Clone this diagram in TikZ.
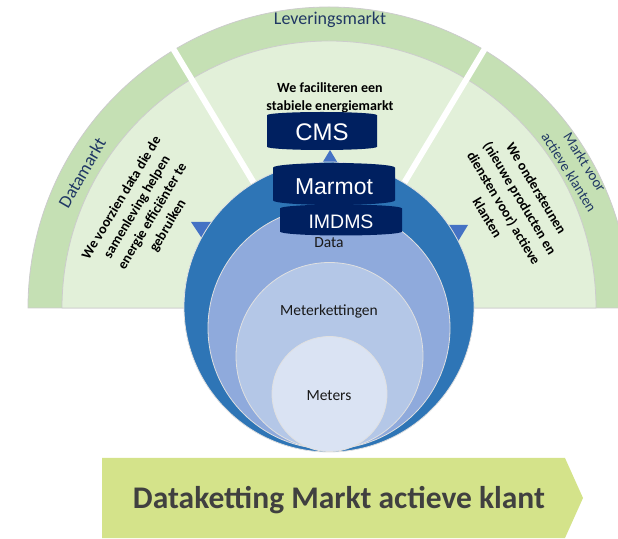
\documentclass[tikz,border=0pt]{standalone}
\usepackage{fontspec}
\setmainfont{Carlito}
\newfontfamily\dbfont{Liberation Sans}
\usetikzlibrary{shapes.geometric}

\definecolor{bandgreen}{HTML}{C5E0B4}
\definecolor{sectorgreen}{HTML}{E2F0D9}
\definecolor{ringA}{HTML}{2E75B6}
\definecolor{ringB}{HTML}{8FAADC}
\definecolor{ringC}{HTML}{B4C7E7}
\definecolor{ringD}{HTML}{DAE3F3}
\definecolor{navy}{HTML}{002060}
\definecolor{tipblue}{HTML}{4472C4}
\definecolor{marketblue}{HTML}{203864}
\definecolor{bannergreen}{HTML}{D4E38A}
\definecolor{bannertext}{HTML}{404040}

\begin{document}
\begin{tikzpicture}[x=1pt, y=1pt,
    rim/.style={draw=black!20, line width=0.8pt},
    ring/.style={draw=black!12, line width=0.8pt},
    db/.style={cylinder, shape border rotate=90, aspect=0.12, fill=navy,
      text=white, inner sep=0pt, anchor=shape center},
    body/.style={align=center, text=black, inner sep=0pt,
      font=\bfseries\fontsize{14}{18}\selectfont},
    market/.style={text=marketblue, inner sep=0pt, align=center,
      font=\fontsize{18}{21}\selectfont},
    layer/.style={text=black!90, inner sep=0pt,
      font=\fontsize{15.5}{18}\selectfont}]
  \useasboundingbox (0,0) rectangle (618,538);
  \coordinate (c) at (329,230);

  % three markets
  \draw[rim, fill=bandgreen] (c) ++(0:301) arc[start angle=0, end angle=180, radius=301] -- cycle;
  \draw[rim, fill=sectorgreen] (c) ++(0:267) arc[start angle=0, end angle=180, radius=267] -- cycle;
  \foreach \a in {59, 121}
    \draw[white, line width=6pt] (c) ++(\a:140) -- ++(\a:170);

  \node[market] (lev) at (330,518) {Leveringsmarkt};
  \node[market, rotate=60] (dm) at (82,365) {Datamarkt};
  \node[market, rotate=-58, font=\fontsize{14.7}{18.5}\selectfont] (mav) at (577,371) {Markt voor\\actieve klanten};

  \node[body] (fac) at (330,440) {We faciliteren een\\stabiele energiemarkt};
  \node[body, rotate=59] (voor) at (145,326) {We voorzien data die de\\samenleving helpen\\energie efficiënter te\\gebruiken};
  \node[body, rotate=-59, font=\bfseries\fontsize{14}{19}\selectfont] (ond) at (512,335) {We ondersteunen\\(nieuwe producten en\\diensten voor) actieve\\klanten};

  % arrow tips
  \fill[tipblue] (191,316) -- (214,316) -- (203,298) -- cycle;
  \fill[tipblue] (445,313) -- (468,313) -- (457,295) -- cycle;
  \fill[tipblue] (321,373) -- (339,373) -- (330,388) -- cycle;

  % data chain
  \draw[ring, fill=ringA] (329,231) circle[radius=145];
  \draw[ring, fill=ringB] (329,210) circle[radius=121];
  \draw[ring, fill=ringC] (329.5,182) circle[radius=93.5];
  \draw[ring, fill=ringD] (329.5,144) circle[radius=57.5];
  \node[layer] (data) at (329,295) {Data};
  \node[layer] (chains) at (329,227) {Meterkettingen};
  \node[layer] (meters) at (329,142) {Meters};

  % systems
  \node[db, minimum width=110pt, minimum height=38pt] (cms) at (322,407)
    {\dbfont\fontsize{24}{24}\selectfont CMS};
  \node[db, minimum width=122pt, minimum height=42pt] (marmot) at (334,354)
    {\dbfont\fontsize{23}{23}\selectfont Marmot};
  \node[db, minimum width=122pt, minimum height=31pt] (imdms) at (341,318)
    {\dbfont\fontsize{19.5}{19.5}\selectfont IMDMS};

  % banner
  \fill[bannergreen] (102,80) -- (565,80) -- (583,40) -- (565,0) -- (102,0) -- cycle;
  \node[text=bannertext, font=\bfseries\fontsize{31.5}{34}\selectfont] (title) at (339,38)
    {Dataketting Markt actieve klant};
\end{tikzpicture}
\end{document}
